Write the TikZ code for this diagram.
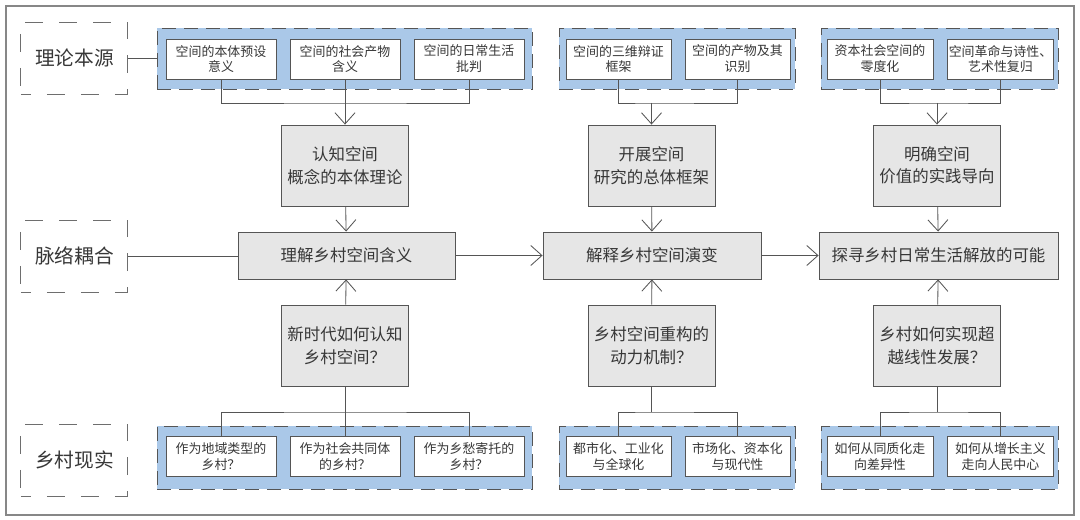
\documentclass[tikz,border=0pt]{standalone}
\usepackage{fontspec}
\setmainfont{Noto Sans CJK SC}
\usepackage{xcolor}
\usepackage{tikz}
\usetikzlibrary{arrows.meta}

\definecolor{linegray}{RGB}{85,85,85}
\definecolor{framegray}{RGB}{135,135,135}
\definecolor{labelgray}{RGB}{110,110,110}
\definecolor{textgray}{RGB}{55,55,55}
\definecolor{boxgray}{RGB}{230,230,230}
\definecolor{grpblue}{RGB}{170,200,232}

\tikzset{
  lbl/.style={draw=labelgray, dash pattern=on 0.45cm off 0.4cm, dash phase=0.2cm, line width=0.6pt,
    minimum width=2.675cm, minimum height=1.8cm, text=textgray, font=\fontsize{14}{16}\selectfont},
  grp/.style={draw=linegray, fill=grpblue, dash pattern=on 0.35cm off 0.2cm, line width=0.7pt,
    minimum height=1.525cm},
  item/.style={draw=linegray, fill=white, line width=0.6pt, minimum height=1.0cm, inner sep=0.5pt,
    align=center, text=textgray, font=\fontsize{9.2}{11.3}\selectfont},
  topic/.style={draw=linegray, fill=boxgray, line width=0.6pt, minimum width=3.175cm, minimum height=2.025cm,
    align=center, text=textgray, font=\fontsize{11.7}{16}\selectfont},
  goal/.style={draw=linegray, fill=boxgray, line width=0.6pt, minimum height=1.175cm,
    text=textgray, font=\fontsize{11.7}{14}\selectfont},
  link/.style={draw=linegray, line width=0.6pt},
  arr/.style={link, -{Straight Barb[length=2.8mm,width=5mm]}},
}

\begin{document}
\begin{tikzpicture}

\useasboundingbox (0,0) rectangle (27,-13);
\draw[framegray, line width=0.8pt] (0.15,-0.15) rectangle (26.85,-12.875);

% row labels
\node[lbl] (lblTheory) at (1.86,-1.45) {理论本源};
\node[lbl] (lblContext) at (1.86,-6.4) {脉络耦合};
\node[lbl] (lblReality) at (1.86,-11.5) {乡村现实};

% theory sources
\node[grp, minimum width=9.375cm] (grpTa) at (8.6125,-1.4625) {};
\node[grp, minimum width=5.9cm] (grpTb) at (16.925,-1.4625) {};
\node[grp, minimum width=5.925cm] (grpTc) at (23.4875,-1.4625) {};

\node[item, minimum width=2.75cm] (inA1) at (5.525,-1.475) {空间的本体预设\\意义};
\node[item, minimum width=2.75cm] (inA2) at (8.625,-1.475) {空间的社会产物\\含义};
\node[item, minimum width=2.75cm] (inA3) at (11.725,-1.475) {空间的日常生活\\批判};
\node[item, minimum width=2.625cm] (inB1) at (15.4625,-1.475) {空间的三维辩证\\框架};
\node[item, minimum width=2.625cm] (inB2) at (18.4375,-1.475) {空间的产物及其\\识别};
\node[item, minimum width=2.65cm] (inC1) at (22.0,-1.475) {资本社会空间的\\零度化};
\node[item, minimum width=2.65cm] (inC2) at (25.0125,-1.475) {空间革命与诗性、\\艺术性复归};

\coordinate (barTa) at (8.625,-2.575);
\coordinate (barTb) at (16.2875,-2.575);
\coordinate (barTc) at (23.425,-2.575);

% theory topics
\node[topic] (thA) at (8.625,-4.1375) {认知空间\\概念的本体理论};
\node[topic] (thB) at (16.2875,-4.1375) {开展空间\\研究的总体框架};
\node[topic] (thC) at (23.425,-4.1375) {明确空间\\价值的实践导向};

% goals
\node[goal, minimum width=5.425cm] (goA) at (8.6625,-6.3875) {理解乡村空间含义};
\node[goal, minimum width=5.45cm] (goB) at (16.3,-6.3875) {解释乡村空间演变};
\node[goal, minimum width=5.975cm] (goC) at (23.4625,-6.3875) {探寻乡村日常生活解放的可能};

% rural questions
\node[topic] (qA) at (8.625,-8.6375) {新时代如何认知\\乡村空间？};
\node[topic] (qB) at (16.2875,-8.6375) {乡村空间重构的\\动力机制？};
\node[topic] (qC) at (23.425,-8.6375) {乡村如何实现超\\越线性发展？};

% rural reality
\node[grp, minimum width=9.375cm, minimum height=1.575cm] (grpRa) at (8.6125,-11.4375) {};
\node[grp, minimum width=5.9cm, minimum height=1.575cm] (grpRb) at (16.925,-11.4375) {};
\node[grp, minimum width=5.925cm, minimum height=1.575cm] (grpRc) at (23.4875,-11.4375) {};

\node[item, minimum width=2.75cm] (reA1) at (5.525,-11.4125) {作为地域类型的\\乡村？};
\node[item, minimum width=2.75cm] (reA2) at (8.625,-11.4125) {作为社会共同体\\的乡村？};
\node[item, minimum width=2.75cm] (reA3) at (11.725,-11.4125) {作为乡愁寄托的\\乡村？};
\node[item, minimum width=2.625cm] (reB1) at (15.4625,-11.4125) {都市化、工业化\\与全球化};
\node[item, minimum width=2.625cm] (reB2) at (18.4375,-11.4125) {市场化、资本化\\与现代性};
\node[item, minimum width=2.65cm] (reC1) at (22.0,-11.4125) {如何从同质化走\\向差异性};
\node[item, minimum width=2.65cm] (reC2) at (25.0125,-11.4125) {如何从增长主义\\走向人民中心};

\coordinate (barRa) at (8.625,-10.3);
\coordinate (barRb) at (16.2875,-10.3);
\coordinate (barRc) at (23.425,-10.3);

% connectors, top
\draw[link] (lblTheory.east) -- (grpTa.west |- lblTheory.east);
\draw[link] (inA1.south) |- (barTa) -| (inA3.south);
\draw[link] (inA2.south) -- (barTa);
\draw[link] (inB1.south) |- (barTb) -| (inB2.south);
\draw[link] (inC1.south) |- (barTc) -| (inC2.south);
\draw[arr] (barTa) -- (thA.north);
\draw[arr] (barTb) -- (thB.north);
\draw[arr] (barTc) -- (thC.north);
\draw[arr] (thA) -- (goA);
\draw[arr] (thB) -- (goB);
\draw[arr] (thC) -- (goC);

% connectors, middle
\draw[link] (lblContext.east) -- (goA.west |- lblContext.east);
\draw[arr] (goA) -- (goB);
\draw[arr] (goB) -- (goC);

% connectors, bottom
\draw[arr] (qA) -- (goA);
\draw[arr] (qB) -- (goB);
\draw[arr] (qC) -- (goC);
\draw[link] (qA.south) -- (barRa);
\draw[link] (qB.south) -- (barRb);
\draw[link] (qC.south) -- (barRc);
\draw[link] (reA1.north) |- (barRa) -| (reA3.north);
\draw[link] (reA2.north) -- (barRa);
\draw[link] (reB1.north) |- (barRb) -| (reB2.north);
\draw[link] (reC1.north) |- (barRc) -| (reC2.north);

\end{tikzpicture}
\end{document}
